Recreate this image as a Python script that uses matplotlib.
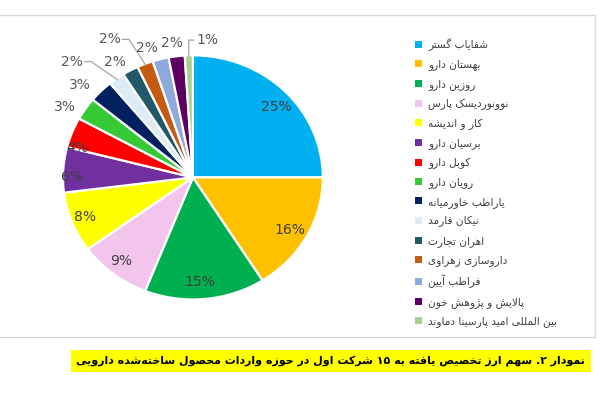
import numpy as np
import matplotlib
matplotlib.use('Agg')
import matplotlib.pyplot as plt
from matplotlib.patches import Patch, Rectangle

plt.rcParams['font.family'] = ['DejaVu Sans']

# data
companies = ['شفایاب گستر', 'بهستان دارو', 'روزین دارو', 'نوونوردیسک پارس',
             'کار و اندیشه', 'برسیان دارو', 'کوبل دارو', 'رویان دارو',
             'یاراطب خاورمیانه', 'نیکان فارمد', 'اهران تجارت', 'داروسازی زهراوی',
             'فراطب آیین', 'پالایش و پژوهش خون', 'بین المللی امید پارسینا دماوند']
shares = [25, 16, 15, 9, 8, 6, 4, 3, 3, 2, 2, 2, 2, 2, 1]
slice_colors = ['#00B0F0', '#FFC000', '#00B050', '#F3C4EC', '#FFFF00', '#7030A0',
                '#FF0000', '#36C936', '#002060', '#DDEBF7', '#215968', '#C55A11',
                '#8EA9DB', '#5E0062', '#A9D08E']
caption = 'نمودار ۲. سهم ارز تخصیص یافته به ۱۵ شرکت اول در حوزه واردات محصول ساخته\u200cشده دارویی'

# label placement per slice: (angle shift in deg, radius, leader line side)
label_style = [(-3, 0.86, None), (-1, 0.86, None), (-2, 0.86, None), (-1, 0.88, None),
               (0, 0.89, None), (3.6, 0.93, None), (6.6, 0.92, None), (3.7, 1.14, None),
               (3.9, 1.155, None), (8.5, 1.33, 'right'), (3.6, 1.12, None), (8, 1.30, 'right'),
               (4, 1.12, None), (1, 1.11, None), (-7.3, 1.13, 'left')]

# --- minimal arabic/persian shaping (matplotlib has no complex text layout) ---
_F = {
    'ء': ('\uFE80', None, None, None),
    'آ': ('\uFE81', '\uFE82', None, None),
    'أ': ('\uFE83', '\uFE84', None, None),
    'ؤ': ('\uFE85', '\uFE86', None, None),
    'إ': ('\uFE87', '\uFE88', None, None),
    'ئ': ('\uFE89', '\uFE8A', '\uFE8B', '\uFE8C'),
    'ا': ('\uFE8D', '\uFE8E', None, None),
    'ب': ('\uFE8F', '\uFE90', '\uFE91', '\uFE92'),
    'ة': ('\uFE93', '\uFE94', None, None),
    'ت': ('\uFE95', '\uFE96', '\uFE97', '\uFE98'),
    'ث': ('\uFE99', '\uFE9A', '\uFE9B', '\uFE9C'),
    'ج': ('\uFE9D', '\uFE9E', '\uFE9F', '\uFEA0'),
    'ح': ('\uFEA1', '\uFEA2', '\uFEA3', '\uFEA4'),
    'خ': ('\uFEA5', '\uFEA6', '\uFEA7', '\uFEA8'),
    'د': ('\uFEA9', '\uFEAA', None, None),
    'ذ': ('\uFEAB', '\uFEAC', None, None),
    'ر': ('\uFEAD', '\uFEAE', None, None),
    'ز': ('\uFEAF', '\uFEB0', None, None),
    'س': ('\uFEB1', '\uFEB2', '\uFEB3', '\uFEB4'),
    'ش': ('\uFEB5', '\uFEB6', '\uFEB7', '\uFEB8'),
    'ص': ('\uFEB9', '\uFEBA', '\uFEBB', '\uFEBC'),
    'ض': ('\uFEBD', '\uFEBE', '\uFEBF', '\uFEC0'),
    'ط': ('\uFEC1', '\uFEC2', '\uFEC3', '\uFEC4'),
    'ظ': ('\uFEC5', '\uFEC6', '\uFEC7', '\uFEC8'),
    'ع': ('\uFEC9', '\uFECA', '\uFECB', '\uFECC'),
    'غ': ('\uFECD', '\uFECE', '\uFECF', '\uFED0'),
    'ف': ('\uFED1', '\uFED2', '\uFED3', '\uFED4'),
    'ق': ('\uFED5', '\uFED6', '\uFED7', '\uFED8'),
    'ك': ('\uFED9', '\uFEDA', '\uFEDB', '\uFEDC'),
    'ل': ('\uFEDD', '\uFEDE', '\uFEDF', '\uFEE0'),
    'م': ('\uFEE1', '\uFEE2', '\uFEE3', '\uFEE4'),
    'ن': ('\uFEE5', '\uFEE6', '\uFEE7', '\uFEE8'),
    'ه': ('\uFEE9', '\uFEEA', '\uFEEB', '\uFEEC'),
    'و': ('\uFEED', '\uFEEE', None, None),
    'ى': ('\uFEEF', '\uFEF0', None, None),
    'ي': ('\uFEF1', '\uFEF2', '\uFEF3', '\uFEF4'),
    'پ': ('\uFB56', '\uFB57', '\uFB58', '\uFB59'),
    'چ': ('\uFB7A', '\uFB7B', '\uFB7C', '\uFB7D'),
    'ژ': ('\uFB8A', '\uFB8B', None, None),
    'ک': ('\uFB8E', '\uFB8F', '\uFB90', '\uFB91'),
    'گ': ('\uFB92', '\uFB93', '\uFB94', '\uFB95'),
    'ی': ('\uFBFC', '\uFBFD', '\uFBFE', '\uFBFF'),
}
_LAMALEF = {'ا': ('\uFEFB', '\uFEFC'), 'آ': ('\uFEF5', '\uFEF6'),
            'أ': ('\uFEF7', '\uFEF8'), 'إ': ('\uFEF9', '\uFEFA')}
_DIGITS = set('0123456789۰۱۲۳۴۵۶۷۸۹')


def fa(text):
    chars = list(text)
    out = []
    i = 0
    while i < len(chars):
        ch = chars[i]
        prev = chars[i - 1] if i > 0 else None
        joins_prev = prev in _F and _F[prev][2] is not None
        if ch == 'ل' and i + 1 < len(chars) and chars[i + 1] in _LAMALEF:
            iso, fin = _LAMALEF[chars[i + 1]]
            out.append(fin if joins_prev else iso)
            i += 2
            continue
        if ch in _F:
            nxt = chars[i + 1] if i + 1 < len(chars) else None
            joins_next = nxt in _F and _F[ch][2] is not None
            iso, fin, ini, med = _F[ch]
            if joins_prev and joins_next:
                out.append(med)
            elif joins_prev:
                out.append(fin)
            elif joins_next:
                out.append(ini)
            else:
                out.append(iso)
        elif ch != '\u200c':
            out.append(ch)
        i += 1
    # visual order: right-to-left, digit runs keep their order
    runs = []
    for c in out:
        isdig = c in _DIGITS
        if runs and runs[-1][0] == isdig:
            runs[-1][1].append(c)
        else:
            runs.append((isdig, [c]))
    vis = []
    for isdig, cs in reversed(runs):
        vis.append(''.join(cs) if isdig else ''.join(reversed(cs)))
    return ''.join(vis)


fig = plt.figure(figsize=(6, 4), dpi=100)

# light frame around the chart area
fig.patches.append(Rectangle((-0.01, 0.158), 1.002, 0.805, transform=fig.transFigure,
                             fill=False, edgecolor='#D9D9D9', linewidth=1))

ax = fig.add_axes([0.0075, 0.114, 0.628, 0.885])
wedges, _ = ax.pie(shares, colors=slice_colors, startangle=90, counterclock=False,
                   wedgeprops=dict(edgecolor='white', linewidth=1.6))
ax.set_aspect('auto')
ax.set_xlim(-1.45, 1.45)
ax.set_ylim(-1.45, 1.45)

for w, val, (shift, rad, side) in zip(wedges, shares, label_style):
    mid = np.deg2rad((w.theta1 + w.theta2) / 2)
    ang = mid + np.deg2rad(shift)
    x, y = rad * np.cos(ang), rad * np.sin(ang)
    col = '#404040' if rad < 1 else '#595959'
    ax.text(x, y, f'{val}%', ha='center', va='center', fontsize=10, color=col)
    if side is not None:
        ex, ey = 0.99 * np.cos(mid), 0.99 * np.sin(mid)
        if side == 'right':
            x0 = x + 0.1
            ax.plot([x0, x0 + 0.05, ex], [y, y, ey], color='#A6A6A6', lw=0.9)
        else:
            x0 = x - 0.1
            ax.plot([x0, x0 - 0.04, ex], [y, y, ey], color='#A6A6A6', lw=0.9)

handles = [Patch(facecolor=c, edgecolor='none') for c in slice_colors]
fig.legend(handles, [fa(n) for n in companies], loc='upper left',
           bbox_to_anchor=(0.685, 0.915), frameon=False, fontsize=7.6,
           handlelength=0.65, handleheight=0.65, handletextpad=0.6,
           labelspacing=0.8, labelcolor='#404040', borderaxespad=0)

fig.text(0.975, 0.098, fa(caption), ha='right', va='center', fontsize=7.9,
         fontweight='bold', color='black',
         bbox=dict(facecolor='#FFFF00', edgecolor='none', pad=4))

fig.savefig('out.png', dpi=100, facecolor='white')
